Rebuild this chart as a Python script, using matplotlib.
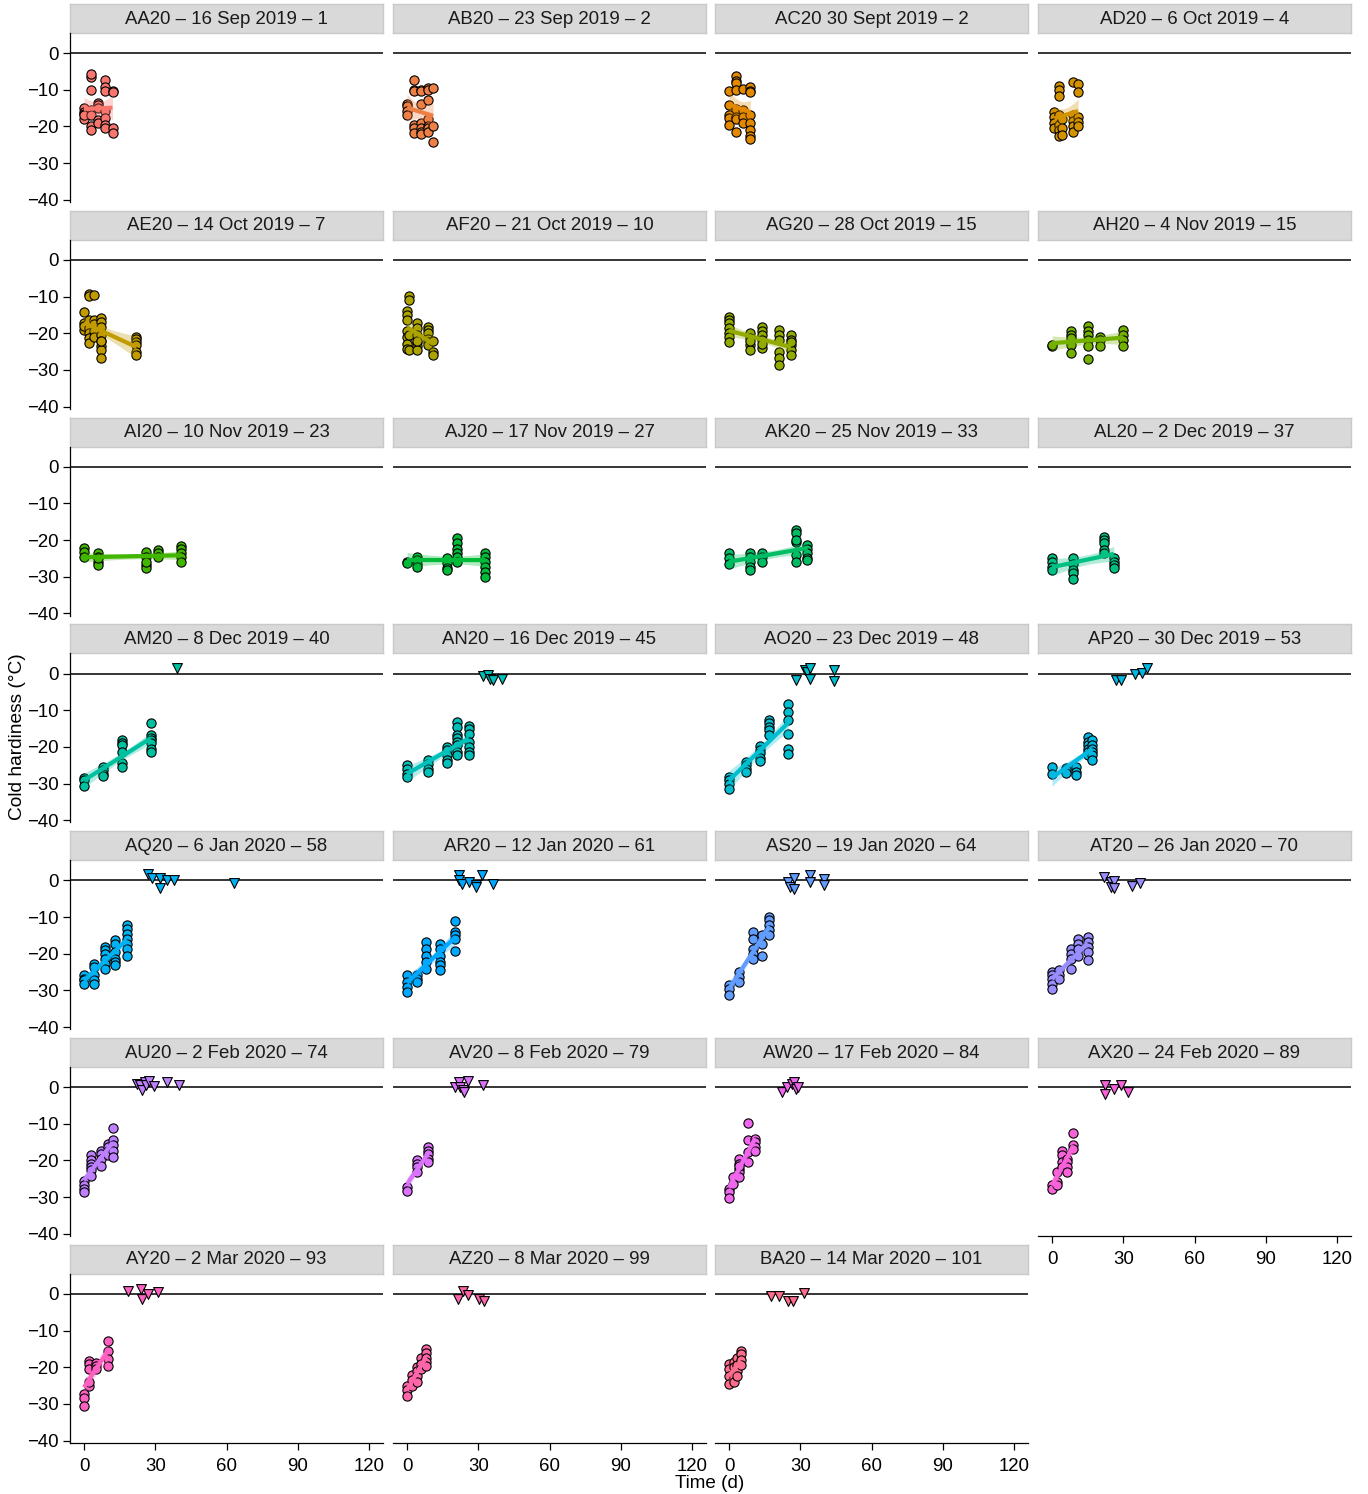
import numpy as np
import matplotlib
matplotlib.use("Agg")
import matplotlib.pyplot as plt

plt.rcParams['font.family'] = ['Liberation Sans', 'DejaVu Sans']

# ---------------- data ----------------
panel_labels = [
    "AA20 – 16 Sep 2019 – 1", "AB20 – 23 Sep 2019 – 2", "AC20 30 Sept 2019 – 2", "AD20 – 6 Oct 2019 – 4",
    "AE20 – 14 Oct 2019 – 7", "AF20 – 21 Oct 2019 – 10", "AG20 – 28 Oct 2019 – 15", "AH20 – 4 Nov 2019 – 15",
    "AI20 – 10 Nov 2019 – 23", "AJ20 – 17 Nov 2019 – 27", "AK20 – 25 Nov 2019 – 33", "AL20 – 2 Dec 2019 – 37",
    "AM20 – 8 Dec 2019 – 40", "AN20 – 16 Dec 2019 – 45", "AO20 – 23 Dec 2019 – 48", "AP20 – 30 Dec 2019 – 53",
    "AQ20 – 6 Jan 2020 – 58", "AR20 – 12 Jan 2020 – 61", "AS20 – 19 Jan 2020 – 64", "AT20 – 26 Jan 2020 – 70",
    "AU20 – 2 Feb 2020 – 74", "AV20 – 8 Feb 2020 – 79", "AW20 – 17 Feb 2020 – 84", "AX20 – 24 Feb 2020 – 89",
    "AY20 – 2 Mar 2020 – 93", "AZ20 – 8 Mar 2020 – 99", "BA20 – 14 Mar 2020 – 101",
]

# sampling days (circles) per panel
circle_days = [
    [0, 3, 6, 9, 12],
    [0, 3, 6, 9, 11],
    [0, 3, 6, 9],
    [1, 3, 4, 9, 11],
    [0, 2, 4, 7, 22],
    [0, 1, 4, 9, 11],
    [0, 9, 14, 21, 26],
    [0, 8, 15, 20, 30],
    [0, 6, 26, 31, 41],
    [0, 4, 17, 21, 33],
    [0, 9, 14, 28, 33],
    [0, 9, 22, 26],
    [0, 8, 16, 28],
    [0, 9, 17, 21, 26],
    [0, 7, 13, 17, 25],
    [0, 6, 10, 15, 17],
    [0, 4, 9, 13, 18],
    [0, 4, 8, 14, 20],
    [0, 4, 10, 14, 17],
    [0, 3, 8, 11, 15],
    [0, 3, 7, 10, 12],
    [0, 4, 9],
    [0, 1.5, 4, 8, 11],
    [0, 2, 4, 6.5, 9],
    [0, 2, 5, 10],
    [0, 2, 4, 6, 8],
    [0, 2, 3.5, 5],
]

# cold hardiness values (°C) for each sampling day
circle_values = [
    [[-15, -16, -16.5, -18, -17], [-6.4, -5.8, -10, -15.5, -17, -20, -21], [-13.5, -14.2, -15, -18.2, -19],
     [-7.3, -9.2, -10.2, -15.8, -17.7, -19.5, -20.5], [-10.3, -10.5, -20.5, -21.8]],
    [[-13.8, -14.5, -15.9, -16.8], [-7.3, -10, -10.2, -19.5, -20.5, -21.8], [-10, -10.3, -14, -19, -20.5, -21.5, -22],
     [-9.5, -10, -12.7, -18, -19.8, -20.5, -21.4], [-9.6, -20, -24.2]],
    [[-10.2, -14.2, -16.8, -17.7, -19.5], [-6.2, -7.5, -8.2, -10, -15.3, -17.5, -18, -21.6], [-9.8, -15.5, -17.5, -19],
     [-9.2, -10.3, -10.6, -16.8, -19, -20.9, -22.7, -23.3]],
    [[-16, -17.5, -19, -20.5], [-8.9, -10, -11.8, -17, -19.5, -21, -22.5], [-18, -20.5, -22.3],
     [-8, -16.8, -18.5, -20, -21.5], [-8.5, -10.5, -17.5, -18.8, -20]],
    [[-14.2, -17.3, -19.1, -18], [-9.4, -9.7, -16.5, -18.5, -20, -21.4, -22.7], [-9.6, -16.4, -17.5, -19.5, -21],
     [-15.9, -17, -18.2, -20.5, -22, -23.6, -24.5, -26.8, -22.2], [-20.9, -21.5, -22.3, -23.2, -25, -25.9]],
    [[-14, -15, -16.3, -19.5, -21, -23, -24.2], [-9.7, -10.9, -20.5, -24.5], [-17.3, -18.5, -20.5, -22.3, -23.6, -24.5, -22],
     [-18.2, -19, -20, -21.5, -22.3, -23.2], [-22, -25, -25.9]],
    [[-15.5, -16.4, -17.3, -18.6, -20, -20.9, -22.3], [-20, -21.4, -23.2, -24.5, -22], [-18.2, -19.5, -20.5, -21.8, -24.1, -23],
     [-19.1, -20.5, -21.8, -25, -26.8, -28.6], [-20.5, -21.8, -23.2, -24.5, -25.9, -22.5]],
    [[-23.6, -23.2], [-19.4, -20.5, -21.4, -23.2, -25.5], [-17.9, -19.4, -20.5, -21.8, -23.6, -27.1],
     [-20.9, -21.8, -23.6], [-19.1, -20.5, -21.8, -23.6]],
    [[-22.1, -23.2, -24.5], [-23.6, -24.5, -25.9, -26.8, -25], [-23.2, -24.5, -26.8, -27.7, -26],
     [-22.7, -23.6, -24.5], [-21.6, -22.3, -23.4, -24.5, -25.9]],
    [[-25.9, -26.3], [-24.5, -25.5, -26.5, -27.3], [-25, -26.3, -27.7, -28.2],
     [-19.5, -20.9, -22.3, -23.6, -24.5, -25.9], [-23.6, -24.5, -25.9, -27.3, -28.6, -30]],
    [[-23.6, -25, -26.4], [-23.6, -24.5, -25.9, -27.3, -28.2], [-23.6, -24.5, -25.9],
     [-17.3, -18.2, -20.5, -24.1, -25.9, -20], [-21.4, -22.3, -23.6, -25, -25.5]],
    [[-25, -25.9, -27.3, -28.2], [-25, -26.4, -28.2, -29.1, -30.5], [-19.1, -20, -20.9, -22.7, -23.6],
     [-25, -25.9, -26.8, -27.5]],
    [[-28.4, -29, -30.6], [-25.5, -26.4, -27.3, -27.9], [-18.2, -19, -19.5, -21.4, -24.5, -25.5],
     [-13.5, -16.8, -17.5, -18.2, -19, -20.5, -21.4]],
    [[-25, -25.9, -27.3, -28.2], [-23.6, -24.7, -25.9, -26.8], [-20, -20.9, -22.3, -23.6, -24.5],
     [-13.2, -14.5, -16.8, -17.7, -18.6, -19.5, -21.4, -22.3], [-14.4, -15, -16.4, -18.6, -20, -21.4, -22.3]],
    [[-28.2, -29.1, -30, -31.4], [-24.1, -25, -25.9, -26.8], [-19.8, -20.9, -21.8, -22.9, -23.8],
     [-12.7, -13.6, -14.5, -15.5, -16.8], [-8.2, -10.5, -12.7, -16.6, -20.5, -22]],
    [[-25.5, -27.3], [-25.7, -26.4, -27], [-25.5, -26.8, -27.7],
     [-17.3, -18.6, -19.5, -20.5, -21.4, -22.3], [-18.2, -19.5, -20.5, -21.4, -22.3, -23.6]],
    [[-25.9, -26.8, -27.3, -28.2], [-22.7, -23.6, -25.9, -27.3, -28.2], [-18.2, -19.1, -20, -21.4, -22.7, -24.1],
     [-16.4, -17.3, -19.5, -21.4, -22.3, -23.2], [-12.1, -13.2, -14.5, -15.9, -17.3, -18.6, -20.5]],
    [[-25.9, -27.7, -29.1, -30.5], [-25.9, -26.8, -27.7], [-16.8, -18.6, -20.5, -22.3, -24.1],
     [-17.3, -18.6, -20.5, -22.3, -23.2, -24.5], [-11.2, -14.1, -15, -15.9, -19.4]],
    [[-28.6, -29.5, -31.2], [-25, -26.4, -27.7], [-14.1, -15.9, -18.6, -20, -21.4],
     [-15, -17.3, -20.5], [-10, -10.9, -12.3, -13.6, -15]],
    [[-25, -25.9, -26.8, -28.2, -29.7], [-24.5, -25.9, -26.8], [-18.6, -20, -21.4, -24.1],
     [-15.9, -17.3, -18.6, -20.5], [-15.5, -16.8, -18.2, -19.5, -21.8]],
    [[-25.5, -26.8, -27.7, -28.5], [-18.6, -20, -20.9, -21.8, -22.7, -24.1], [-17.3, -18.2, -19.5, -21.4],
     [-15.5, -16.4, -17.3, -18.6], [-11.2, -14.5, -15.9, -17.3, -19.1]],
    [[-27.3, -28.2], [-20, -20.9, -21.8, -23.2], [-16.4, -17.3, -18.2, -19.5, -20.5]],
    [[-27.7, -28.6, -30.3], [-24.5, -26.4], [-19.5, -20.9, -22.3, -23.2, -24.5, -21.4],
     [-9.7, -14.5, -17.7, -20.5], [-14.1, -15, -16.4, -17.3]],
    [[-26.8, -27.9], [-23.2, -25.9, -26.6], [-17.3, -18.6, -20.5, -21.8],
     [-19.5, -20.5, -21.8, -23.2], [-12.5, -15.9, -16.8]],
    [[-27.2, -28.5, -30.5], [-18.2, -19, -20.5, -25, -24], [-18.8, -19.6, -20.5], [-12.8, -15.5, -17.7, -19.6]],
    [[-25, -26.3, -27.7], [-22, -23.5, -25], [-20, -21, -22.5, -24], [-17.5, -19, -20.5], [-15, -16, -17.5, -18.5, -19.6]],
    [[-19, -20.5, -22.3, -24.5], [-18.5, -20, -21.5, -23, -24], [-17.5, -19.5, -21, -22.5], [-15.5, -16.5, -18, -19.5]],
]

# triangle markers near 0 °C (day, value)
tri_days = [
    [], [], [], [], [], [], [], [], [], [], [], [],
    [39],
    [32, 34, 35, 36, 40],
    [28, 32, 33, 34, 34, 44, 44],
    [27, 29, 35, 38, 40],
    [27, 28.5, 32, 32, 35, 38, 63],
    [22, 22, 23, 26, 29, 29, 31.5, 36],
    [25, 25.5, 27.5, 27.5, 34, 34, 40, 40],
    [22, 25, 25, 26, 26, 33.5, 37],
    [22.5, 23.5, 24.5, 25.5, 26, 27.5, 29.5, 35, 40],
    [20, 22, 22.5, 23.5, 24, 25.5, 32],
    [22.5, 24.5, 26.5, 27.5, 28, 29],
    [22.5, 22.5, 26, 29, 32],
    [18.5, 24, 24.5, 27, 31],
    [21.5, 23.5, 25.5, 30.5, 32.5],
    [17.5, 21, 25, 27, 31.5],
]
tri_values = [
    [], [], [], [], [], [], [], [], [], [], [], [],
    [1.6],
    [-0.7, -0.5, -1.4, -1.8, -1.4],
    [-1.8, 0.9, 0.5, 1.6, -1.4, 0.9, -2.0],
    [-1.8, -1.8, 0.0, 0.2, 1.5],
    [1.8, 0.6, 0.6, -2.1, 0.0, 0.0, -0.7],
    [1.5, 0.0, -0.9, -0.5, -1.2, -1.8, 1.5, -0.9],
    [-0.5, -1.8, 0.6, -2.3, 1.4, -0.5, 0.3, -1.2],
    [0.9, -0.5, -1.8, -0.3, -2.0, -1.5, -0.6],
    [0.9, 0.5, -0.9, 1.4, 0.5, 1.8, 0.3, 1.4, 0.5],
    [0.0, 1.5, 0.0, -0.9, -1.4, 1.8, 0.6],
    [-1.2, 0.0, 0.9, 1.4, -0.5, 0.0],
    [0.5, -1.8, -0.6, 0.6, -1.4],
    [0.8, 1.4, -1.4, 0.0, 0.5],
    [-1.4, 0.8, -0.3, -1.4, -1.9],
    [-0.5, -0.5, -1.9, -1.9, 0.3],
]

y_ticks = [0, -10, -20, -30, -40]
x_ticks = [0, 30, 60, 90, 120]


# ---------------- colours (ggplot2 default hue palette) ----------------
def hcl_hex(h, c=100.0, l=65.0):
    hr = np.deg2rad(h)
    U, V = c * np.cos(hr), c * np.sin(hr)
    Xn, Yn, Zn = 95.047, 100.0, 108.883
    den = Xn + 15 * Yn + 3 * Zn
    un, vn = 4 * Xn / den, 9 * Yn / den
    Y = Yn * ((l + 16) / 116) ** 3
    u = U / (13 * l) + un
    v = V / (13 * l) + vn
    X = 9 * Y * u / (4 * v)
    Z = -X / 3 - 5 * Y + 3 * Y / v
    X, Y, Z = X / 100, Y / 100, Z / 100
    rgb = np.array([3.240479 * X - 1.537150 * Y - 0.498535 * Z,
                    -0.969256 * X + 1.875992 * Y + 0.041556 * Z,
                    0.055648 * X - 0.204043 * Y + 1.057311 * Z])
    rgb = np.where(rgb <= 0.0031308, 12.92 * rgb, 1.055 * np.abs(rgb) ** (1 / 2.4) - 0.055)
    rgb = np.clip(rgb, 0, 1)
    return rgb


n = len(panel_labels)
hues = np.linspace(15, 375, n + 1)[:-1]
colors = [hcl_hex(h) for h in hues]

# ---------------- layout ----------------
W, H = 1368, 1494
fig = plt.figure(figsize=(W / 100, H / 100), dpi=100)
col_left = [70, 393, 715, 1038]
pw = 313
strip_h = 29
ph = 169
row_top0 = 4
row_pitch = 206.8
bottom_panels = {23, 24, 25, 26}

for i, label in enumerate(panel_labels):
    r, c = divmod(i, 4)
    st = row_top0 + r * row_pitch
    # strip
    ax_s = fig.add_axes([col_left[c] / W, 1 - (st + strip_h) / H, pw / W, strip_h / H])
    ax_s.set_facecolor('#D9D9D9')
    ax_s.set_xticks([]); ax_s.set_yticks([])
    for sp in ax_s.spines.values():
        sp.set_color('#C9C9C9'); sp.set_linewidth(1.0)
    ax_s.text(0.5, 0.48, label, ha='center', va='center', fontsize=13.4, color='#1a1a1a')

    # panel
    ax = fig.add_axes([col_left[c] / W, 1 - (st + strip_h + ph) / H, pw / W, ph / H])
    ax.set_xlim(-5.9, 125.9)
    ax.set_ylim(-40.6, 5.5)
    ax.axhline(0, color='black', lw=1.1, zorder=1)
    col = colors[i]

    xs = np.concatenate([[d] * len(v) for d, v in zip(circle_days[i], circle_values[i])])
    ys = np.concatenate([np.array(v, float) for v in circle_values[i]])
    ax.scatter(xs, ys, s=44, c=[col], edgecolors='black', linewidths=0.8, zorder=3)
    if tri_days[i]:
        ax.scatter(tri_days[i], tri_values[i], s=50, marker='v', c=[col], edgecolors='black',
                   linewidths=0.8, zorder=3)

    # linear fit with confidence band
    A = np.vstack([np.ones_like(xs), xs]).T
    coef, res, rank, sv = np.linalg.lstsq(A, ys, rcond=None)
    xf = np.linspace(xs.min(), xs.max(), 80)
    yf = coef[0] + coef[1] * xf
    resid = ys - A @ coef
    dof = len(xs) - 2
    s2 = np.sum(resid ** 2) / dof
    xm = xs.mean()
    sxx = np.sum((xs - xm) ** 2)
    se = np.sqrt(s2 * (1 / len(xs) + (xf - xm) ** 2 / sxx))
    tq = 1.96
    ax.fill_between(xf, yf - tq * se, yf + tq * se, color=col, alpha=0.3, lw=0, zorder=4)
    ax.plot(xf, yf, color=col, lw=3.0, zorder=5, solid_capstyle='butt')

    for sp in ['top', 'right']:
        ax.spines[sp].set_visible(False)
    ax.set_facecolor('none')
    if c == 0:
        ax.spines['left'].set_color('black'); ax.spines['left'].set_linewidth(0.9)
        ax.set_yticks(y_ticks)
        ax.tick_params(axis='y', length=5, width=0.9, labelsize=13.4, pad=3, colors='black')
    else:
        ax.spines['left'].set_visible(False)
        ax.set_yticks([])
    if i in bottom_panels:
        ax.spines['bottom'].set_color('black'); ax.spines['bottom'].set_linewidth(0.9)
        ax.set_xticks(x_ticks)
        ax.tick_params(axis='x', length=5, width=0.9, labelsize=13.4, pad=6, colors='black')
    else:
        ax.spines['bottom'].set_visible(False)
        ax.set_xticks([])

fig.text(18 / W, 1 - 737 / H, "Cold hardiness (°C)", rotation=90, ha='center', va='center', fontsize=13.8)
fig.text(710 / W, 1 - 1483 / H, "Time (d)", ha='center', va='center', fontsize=13.6)

fig.savefig("out.png", dpi=100)
